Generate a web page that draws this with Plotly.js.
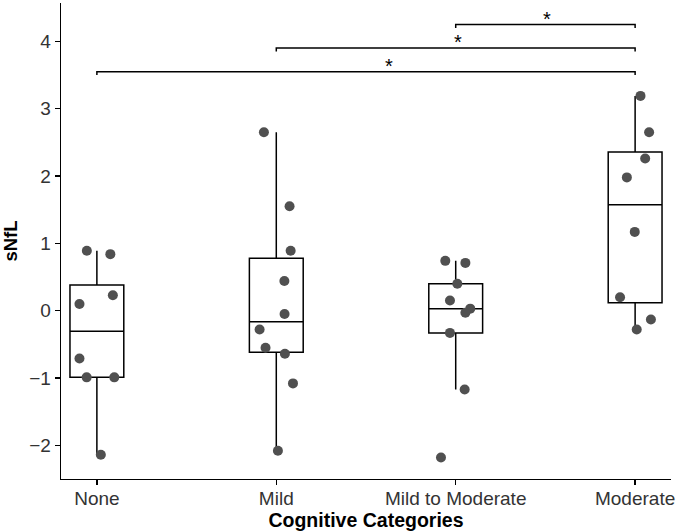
<!DOCTYPE html>
<html>
<head>
<meta charset="utf-8">
<script src="https://cdn.plot.ly/plotly-3.0.1.min.js"></script>
<style>html,body{margin:0;padding:0;background:#fff}#chart{width:676px;height:532px}</style>
</head>
<body>
<div id="chart"></div>
<script>
// ---- data ----
var categories = ["None", "Mild", "Mild to Moderate", "Moderate"];

var noneVals     = [0.89, 0.84, 0.10, 0.23, -0.71, -0.99, -0.99, -2.14];
var mildVals     = [2.65, 1.55, 0.89, 0.44, -0.05, -0.28, -0.55, -0.64, -1.08, -2.08];
var mildModVals  = [0.74, 0.71, 0.40, 0.15, 0.03, -0.03, -0.33, -1.17, -2.18];
var moderateVals = [3.19, 2.65, 2.26, 1.98, 1.17, 0.20, -0.13, -0.28];

// horizontal jitter of each point (category units)
var noneJitter     = [-0.056, 0.075, -0.097, 0.089, -0.097, -0.057, 0.097, 0.022];
var mildJitter     = [-0.069, 0.074, 0.080, 0.045, 0.046, -0.093, -0.060, 0.048, 0.093, 0.009];
var mildModJitter  = [-0.058, 0.054, 0.009, -0.032, 0.081, 0.054, -0.032, 0.050, -0.082];
var moderateJitter = [0.030, 0.078, 0.056, -0.046, -0.002, -0.084, 0.088, 0.009];

// significance comparisons: [from group, to group, bracket height, label x, label]
var compFrom  = [2, 1, 0];
var compTo    = [3, 3, 3];
var compY     = [4.25, 3.90, 3.55];
var compLabX  = [2.51, 2.01, 1.63];
var compLabel = ["*", "*", "*"];

var yTicks = [-2, -1, 0, 1, 2, 3, 4];

// ---- helpers ----
function quantile7(arr, p) {
  var s = arr.slice().sort(function (a, b) { return a - b; });
  var h = (s.length - 1) * p, lo = Math.floor(h), hi = Math.ceil(h);
  return s[lo] + (h - lo) * (s[hi] - s[lo]);
}
function boxStats(arr) {
  var q1 = quantile7(arr, 0.25), md = quantile7(arr, 0.5), q3 = quantile7(arr, 0.75);
  var iqr = q3 - q1, lo = q1 - 1.5 * iqr, hi = q3 + 1.5 * iqr;
  var inside = arr.filter(function (v) { return v >= lo && v <= hi; });
  return {q1: q1, md: md, q3: q3, lf: Math.min.apply(null, inside), uf: Math.max.apply(null, inside)};
}

var groups = [noneVals, mildVals, mildModVals, moderateVals];
var jitters = [noneJitter, mildJitter, mildModJitter, moderateJitter];
var stats = groups.map(boxStats);
var pos = categories.map(function (c, i) { return i; });

var traces = [];
traces.push({
  type: "box",
  x: pos,
  q1: stats.map(function (s) { return s.q1; }),
  median: stats.map(function (s) { return s.md; }),
  q3: stats.map(function (s) { return s.q3; }),
  lowerfence: stats.map(function (s) { return s.lf; }),
  upperfence: stats.map(function (s) { return s.uf; }),
  width: 0.3,
  whiskerwidth: 0,
  boxpoints: false,
  fillcolor: "rgba(255,255,255,0)",
  line: {color: "#000", width: 1.5},
  hoverinfo: "skip",
  showlegend: false
});

groups.forEach(function (g, i) {
  traces.push({
    type: "scatter",
    mode: "markers",
    x: g.map(function (v, k) { return i + jitters[i][k]; }),
    y: g,
    marker: {size: 10, color: "#505050"},
    showlegend: false,
    hoverinfo: "skip"
  });
});

var tip = 0.05;
var annotations = [];
compY.forEach(function (yy, k) {
  traces.push({
    type: "scatter",
    mode: "lines",
    x: [compFrom[k], compFrom[k], compTo[k], compTo[k]],
    y: [yy - tip, yy, yy, yy - tip],
    line: {color: "#000", width: 1.5},
    showlegend: false,
    hoverinfo: "skip"
  });
  annotations.push({
    x: compLabX[k], y: yy, xref: "x", yref: "y",
    text: compLabel[k], showarrow: false,
    yanchor: "bottom", yshift: -7,
    font: {family: "Liberation Sans, Arial, sans-serif", size: 20, color: "#000"}
  });
});

var layout = {
  width: 676, height: 532,
  margin: {l: 61, r: 5, t: 3, b: 53},
  paper_bgcolor: "#fff", plot_bgcolor: "#fff",
  font: {family: "Liberation Sans, Arial, sans-serif", color: "#000"},
  showlegend: false,
  xaxis: {
    range: [-0.2, 3.2],
    tickmode: "array", tickvals: pos, ticktext: categories,
    showgrid: false, zeroline: false,
    showline: true, linecolor: "#000", linewidth: 1.3,
    ticks: "outside", ticklen: 5, tickcolor: "#000", tickwidth: 1.3,
    ticklabeloverflow: "allow",
    ticklabelstandoff: -3,
    tickfont: {size: 19, color: "#333"},
    title: {text: "<b>Cognitive Categories</b>", font: {size: 19.5, color: "#000"}, standoff: 4}
  },
  yaxis: {
    range: [-2.5, 4.57],
    tickmode: "array", tickvals: yTicks,
    showgrid: false, zeroline: false,
    showline: true, linecolor: "#000", linewidth: 1.3,
    ticks: "outside", ticklen: 5, tickcolor: "#000", tickwidth: 1.3,
    tickfont: {size: 19, color: "#333"},
    title: {text: "<b>sNfL</b>", font: {size: 18.5, color: "#000"}, standoff: 8}
  },
  annotations: annotations
};

Plotly.newPlot("chart", traces, layout, {staticPlot: true, displayModeBar: false});
</script>
</body>
</html>
